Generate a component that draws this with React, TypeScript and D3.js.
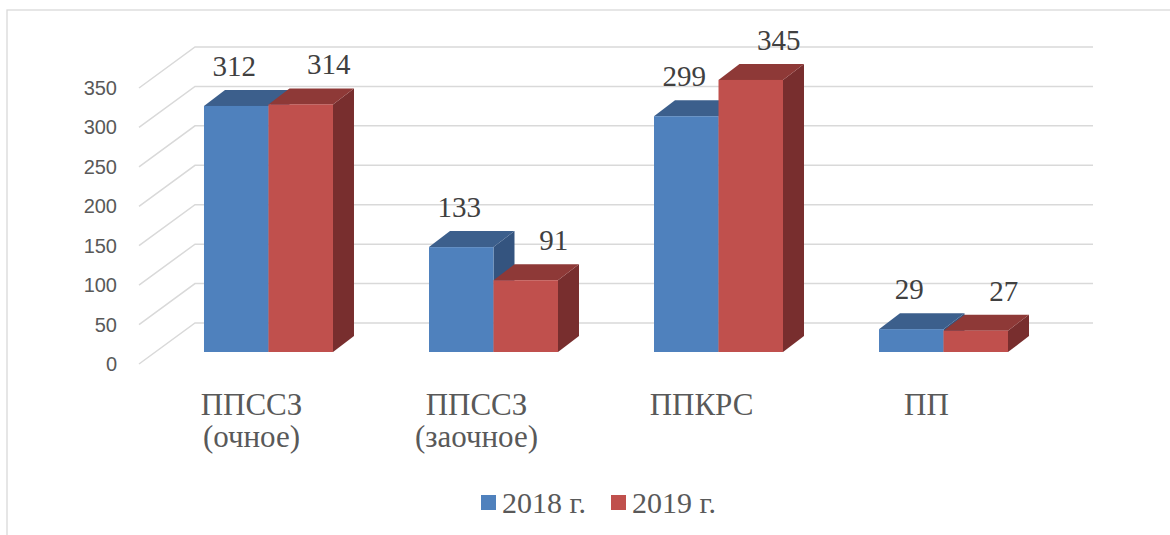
import * as d3 from "d3";

const categories = ["ППССЗ\n(очное)", "ППССЗ\n(заочное)", "ППКРС", "ПП"];
const seriesNames = ["2018 г.", "2019 г."];
const values2018 = [312, 133, 299, 29];
const values2019 = [314, 91, 345, 27];
const yTicks = [0, 50, 100, 150, 200, 250, 300, 350];

const width = 1170;
const height = 535;

// face colours: front, top, side
const palette = [
  { front: "#4F81BD", top: "#3C5F8C", side: "#34547F" },
  { front: "#C0504D", top: "#8E3937", side: "#782E2E" },
];

const depth = { dx: 21, dy: -16 }; // bar depth
const wallFront = { x: 139, dy: 12 };
const wallBack = { x: 195, dy: -29, right: 1093 };
const labelShift = [-2, 28];
const SERIF = "Liberation Serif";
const SANS = "Liberation Sans";

function App() {
  const series = [values2018, values2019];

  const x = d3
    .scaleBand<string>()
    .domain(categories)
    .range([156, 1056])
    .paddingInner(0.4267)
    .paddingOuter(0.2133);

  const xs = d3
    .scaleBand<number>()
    .domain([0, 1])
    .range([0, x.bandwidth()]);

  const y = d3.scaleLinear().domain([0, 350]).range([352, 76]);

  const bars = categories.flatMap((c, i) =>
    series.map((vals, s) => {
      const x0 = (x(c) ?? 0) + (xs(s) ?? 0);
      const w = xs.bandwidth();
      return { key: `${i}-${s}`, s, v: vals[i], x0, w, y0: y(0), y1: y(vals[i]) };
    }),
  );

  const { dx, dy } = depth;
  const catX = (c: string) => (x(c) ?? 0) + x.bandwidth() / 2 - 17;

  return (
    <svg
      width={width}
      height={height}
      style={{ position: "absolute", left: 0, top: 0, background: "#fff" }}
    >
      <rect x={7} y={10} width={1200} height={600} fill="none" stroke="#D9D9D9" strokeWidth={1.3} />

      {/* walls / grid */}
      <g stroke="#D9D9D9" strokeWidth={1.5} fill="none">
        {yTicks.map((t) => (
          <path
            key={t}
            d={`M${wallFront.x},${y(t) + wallFront.dy}L${wallBack.x},${y(t) + wallBack.dy}H${wallBack.right}`}
          />
        ))}
      </g>

      {/* y axis labels */}
      {yTicks.map((t) => (
        <text
          key={t}
          x={117}
          y={y(t) + wallFront.dy}
          dy="0.35em"
          fontFamily={SANS}
          fontSize={20}
          fill="#595959"
          textAnchor="end"
        >
          {t}
        </text>
      ))}

      {/* bars */}
      {bars.map((b) => {
        const c = palette[b.s];
        const x1 = b.x0 + b.w;
        return (
          <g key={b.key}>
            <path
              d={`M${x1},${b.y0}L${x1 + dx},${b.y0 + dy}L${x1 + dx},${b.y1 + dy}L${x1},${b.y1}Z`}
              fill={c.side}
            />
            <path
              d={`M${b.x0},${b.y1}L${b.x0 + dx},${b.y1 + dy}L${x1 + dx},${b.y1 + dy}L${x1},${b.y1}Z`}
              fill={c.top}
            />
            <rect x={b.x0} y={b.y1} width={b.w} height={b.y0 - b.y1} fill={c.front} />
          </g>
        );
      })}

      {/* value labels */}
      {bars.map((b) => (
        <text
          key={b.key}
          x={b.x0 + b.w / 2 + labelShift[b.s]}
          y={b.y1 - 30}
          fontFamily={SERIF}
          fontSize={29}
          fill="#404040"
          textAnchor="middle"
        >
          {b.v}
        </text>
      ))}

      {/* category labels */}
      {categories.map((c) => (
        <text key={c} x={catX(c)} y={415} fontFamily={SERIF} fontSize={31} fill="#595959" textAnchor="middle">
          {c.split("\n").map((line, k) => (
            <tspan key={k} x={catX(c)} dy={k === 0 ? 0 : 32}>
              {line}
            </tspan>
          ))}
        </text>
      ))}

      {/* legend */}
      {seriesNames.map((n, i) => (
        <g key={n} transform={`translate(${481 + i * 130},495)`}>
          <rect width={15} height={15} fill={palette[i].front} />
          <text x={21} y={18} fontFamily={SERIF} fontSize={30} fill="#595959">
            {n}
          </text>
        </g>
      ))}
    </svg>
  );
}

export default App;
